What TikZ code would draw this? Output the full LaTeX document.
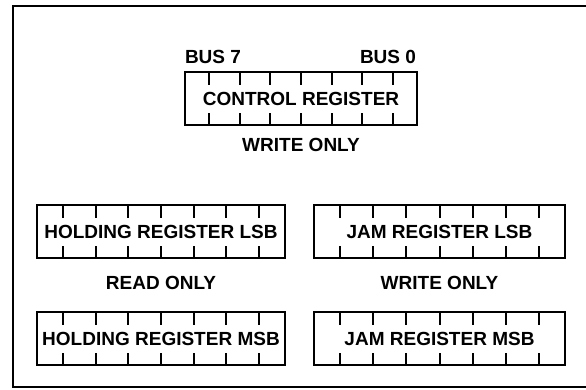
\documentclass[tikz,border=0pt]{standalone}
\usepackage{fontspec}
\setmainfont{Liberation Sans}
\usetikzlibrary{calc}
\def\regticks(#1)(#2){\foreach \k in {0,...,6}{%
  \draw[tick] ($(#1.north west)+({(0.8+\k)*#2/7.6},0)$) -- ++(0,13);
  \draw[tick] ($(#1.south west)+({(0.8+\k)*#2/7.6},0)$) -- ++(0,-12);}}

\begin{document}
\begin{tikzpicture}[x=1pt, y=-1pt,
    reg/.style={draw, line width=2.4pt, minimum height=53pt, inner sep=0pt, outer sep=0pt},
    tick/.style={line width=2pt},
    lbl/.style={inner sep=0pt}]
			%%%%% START %%%%%
			\useasboundingbox (0, 0) rectangle (586, 390);
			\fill[white] (0, 0) rectangle (586, 390);
			\tikzset{every node/.append style={font=\fontsize{19}{21}\selectfont\bfseries}}
			
			\draw[line width=2.4pt] (586, 6) -- (13, 6) -- (13, 387) -- (586, 387);
			
			\node[reg, minimum width=232pt] (ctrl) at (301, 98.5) {CONTROL REGISTER};
			\regticks(ctrl)(232)
			\node[lbl] (bus7) at (213, 57) {BUS 7};
			\node[lbl] (bus0) at (388, 57) {BUS 0};
			\node[lbl] (ctrlwr) at (301, 145) {WRITE ONLY};
			
			\node[reg, minimum width=248pt] (holdlsb) at (161, 231.5) {HOLDING REGISTER LSB};
			\regticks(holdlsb)(248)
			\node[lbl] (holdrd) at (161, 283) {READ ONLY};
			\node[reg, minimum width=248pt] (holdmsb) at (161, 338.5) {HOLDING REGISTER MSB};
			\regticks(holdmsb)(248)
			
			\node[reg, minimum width=251pt] (jamlsb) at (439.5, 231.5) {JAM REGISTER LSB};
			\regticks(jamlsb)(251)
			\node[lbl] (jamwr) at (439.5, 283) {WRITE ONLY};
			\node[reg, minimum width=251pt] (jammsb) at (439.5, 338.5) {JAM REGISTER MSB};
			\regticks(jammsb)(251)
			
			%%%%% END %%%%%
\end{tikzpicture}
\end{document}
